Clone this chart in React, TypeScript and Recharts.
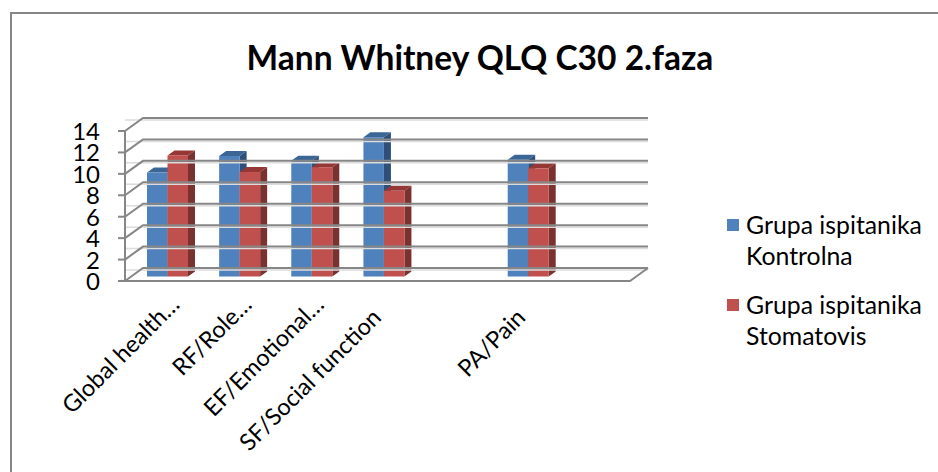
import React from "react";
import { BarChart, Bar, XAxis, YAxis, ReferenceLine, Legend } from "recharts";

const categories = ["Global health…", "RF/Role…", "EF/Emotional…", "SF/Social function", " ", "PA/Pain", "  "];
const kontrolna = [9.7, 11.25, 10.8, 13, null, 10.9, null];
const stomatovis = [11.3, 9.75, 10.2, 8, null, 10.1, null];
const yTicks = [0, 2, 4, 6, 8, 10, 12, 14];
const seriesNames = ["Grupa ispitanika Kontrolna", "Grupa ispitanika Stomatovis"];
const titleText = "Mann Whitney QLQ C30 2.faza";

const data = categories.map((c, i) => ({ name: c, a: kontrolna[i], b: stomatovis[i] }));

const FONT = "Lato, Carlito, 'Open Sans', sans-serif";
const GRID = "#868686";
const BACK_X = 18;
const BACK_Y = -13;

const Bar3D = (front: string, top: string, side: string) => (p: any) => {
  const { x, y, width, height } = p;
  if (p.value == null || !height) return <g />;
  const X = x + 6;
  const Y = y - 4.5;
  const dx = 7;
  const dy = -5;
  return (
    <g>
      <polygon points={`${X},${Y} ${X + dx},${Y + dy} ${X + width + dx},${Y + dy} ${X + width},${Y}`} fill={top} />
      <polygon
        points={`${X + width},${Y} ${X + width + dx},${Y + dy} ${X + width + dx},${Y + height + dy} ${X + width},${Y + height}`}
        fill={side}
      />
      <rect x={X} y={Y} width={width} height={height} fill={front} />
    </g>
  );
};

const WallLine = (p: any) => {
  const { x1, x2, y1 } = p;
  const left = Math.min(x1, x2);
  const right = Math.max(x1, x2);
  return (
    <g fill="none">
      <path d={`M${left},${y1 + BACK_Y + 2}H${right + BACK_X}`} stroke="#dcdcdc" strokeWidth={1.5} />
      <path d={`M${left},${y1}L${left + BACK_X},${y1 + BACK_Y}H${right + BACK_X}`} stroke={GRID} strokeWidth={2} />
    </g>
  );
};

const FloorLine = (p: any) => {
  const { x1, x2, y1 } = p;
  const left = Math.min(x1, x2);
  const right = Math.max(x1, x2);
  return (
    <g fill="none">
      <path d={`M${left},${y1}H${right}L${right + BACK_X},${y1 + BACK_Y}`} stroke={GRID} strokeWidth={2} />
    </g>
  );
};

const XTick = (p: any) => {
  const { x, y, payload } = p;
  const cut = String(payload.value).endsWith("…");
  const tx = x + (cut ? 20 : 5);
  const ty = y + (cut ? 17 : 30);
  return (
    <text x={tx} y={ty} textAnchor="end" fontFamily={FONT} fontSize={23.5} fill="#000" transform={`rotate(-45 ${tx} ${ty})`}>
      {payload.value}
    </text>
  );
};

const YTick = (p: any) => {
  const { x, y, payload } = p;
  return (
    <text x={x} y={y + 9} textAnchor="end" fontFamily={FONT} fontSize={24} fill="#000">
      {payload.value}
    </text>
  );
};

const LegendBox = () => (
  <div style={{ fontFamily: FONT, fontSize: 24.8, lineHeight: "31px", color: "#000", width: 205, whiteSpace: "normal" }}>
    {seriesNames.map((n, i) => (
      <div key={n} style={{ position: "relative", paddingLeft: 27, marginBottom: i === 0 ? 18 : 0 }}>
        <span
          style={{
            position: "absolute",
            left: 8,
            top: 10,
            width: 12,
            height: 12,
            background: i === 0 ? "#4F81BD" : "#C0504D",
          }}
        />
        {n}
      </div>
    ))}
  </div>
);

export default function App() {
  return (
    <div style={{ position: "absolute", left: 0, top: 0, width: 938, height: 472, overflow: "hidden", background: "#fff" }}>
      <div
        style={{
          position: "absolute",
          left: 10,
          top: 12,
          width: 928,
          height: 460,
          borderLeft: "2px solid #868686",
          borderTop: "2px solid #868686",
        }}
      />
      <div
        style={{
          position: "absolute",
          left: 0,
          width: 960,
          top: 37,
          textAlign: "center",
          fontFamily: FONT,
          fontWeight: 700,
          fontSize: 33.5,
          lineHeight: "40px",
          color: "#000",
        }}
      >
        {titleText}
      </div>
      <div style={{ position: "absolute", left: 0, top: 0 }}>
        <BarChart
          width={938}
          height={472}
          data={data}
          margin={{ top: 131, left: 0, right: 93, bottom: 0 }}
          barSize={20.5}
          barGap={0}
        >
          <XAxis dataKey="name" interval={0} height={191} axisLine={false} tickLine={false} tick={<XTick />} />
          <YAxis
            width={125}
            domain={[0, 14]}
            ticks={yTicks}
            interval={0}
            axisLine={{ stroke: GRID, strokeWidth: 2 }}
            tickLine={{ stroke: GRID, strokeWidth: 2 }}
            tickSize={7}
            tickMargin={18}
            tick={<YTick />}
          />
          {yTicks.map((t) => (
            <ReferenceLine key={t} y={t} shape={<WallLine />} />
          ))}
          <ReferenceLine y={0} shape={<FloorLine />} />
          <Legend
            layout="vertical"
            align="right"
            verticalAlign="top"
            content={<LegendBox />}
            wrapperStyle={{ left: 719, top: 209, width: 215 }}
          />
          <Bar dataKey="a" name={seriesNames[0]} fill="#4F81BD" isAnimationActive={false} shape={Bar3D("#4F81BD", "#3A6595", "#2F4F78")} />
          <Bar dataKey="b" name={seriesNames[1]} fill="#C0504D" isAnimationActive={false} shape={Bar3D("#C0504D", "#953735", "#7A3230")} />
        </BarChart>
      </div>
    </div>
  );
}
